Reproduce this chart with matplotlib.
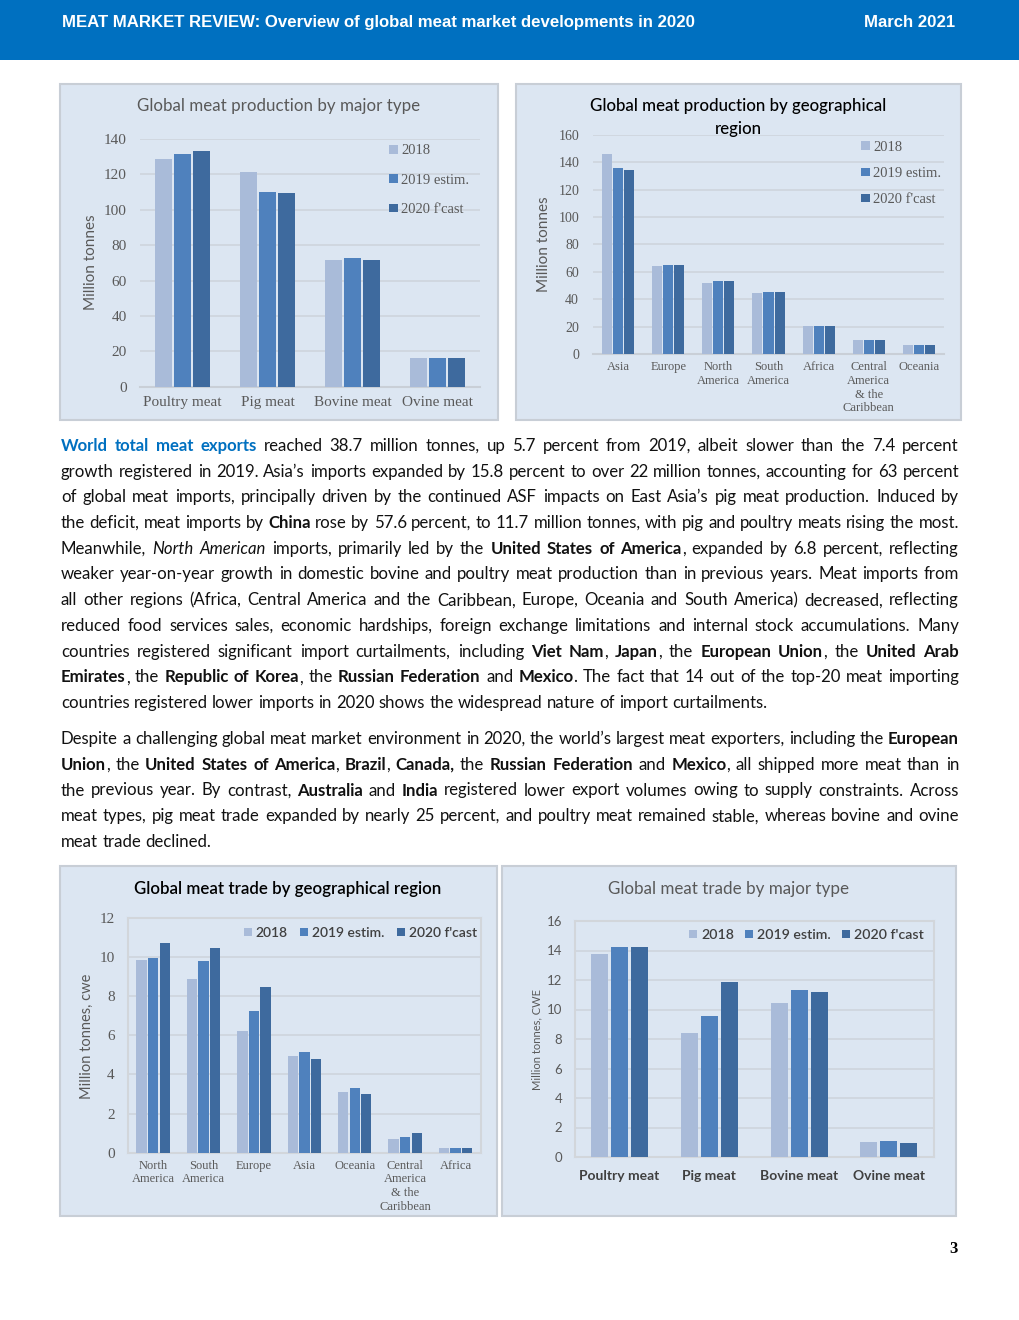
import matplotlib
matplotlib.use('Agg')
import matplotlib.pyplot as plt
from matplotlib.patches import Rectangle
from matplotlib.font_manager import FontProperties
import numpy as np

W, H = 1020, 1320

series = ['2018', '2019 estim.', "2020 f'cast"]

# production by major type (million tonnes)
prod_type_cats = ['Poultry meat', 'Pig meat', 'Bovine meat', 'Ovine meat']
prod_type_2018 = [128.7, 121.3, 71.6, 16.2]
prod_type_2019 = [131.5, 110.0, 72.7, 16.2]
prod_type_2020 = [133.2, 109.5, 71.6, 16.2]

# production by region (million tonnes)
prod_reg_cats = ['Asia', 'Europe', 'North\nAmerica', 'South\nAmerica', 'Africa',
                 'Central\nAmerica\n& the\nCaribbean', 'Oceania']
prod_reg_2018 = [145.9, 64.2, 51.8, 44.5, 20.4, 10.2, 6.6]
prod_reg_2019 = [135.7, 64.9, 53.3, 45.2, 20.4, 10.2, 6.6]
prod_reg_2020 = [134.2, 64.9, 53.3, 45.2, 20.4, 10.2, 6.6]

# trade by region (million tonnes cwe)
trade_reg_cats = ['North\nAmerica', 'South\nAmerica', 'Europe', 'Asia', 'Oceania',
                  'Central\nAmerica\n& the\nCaribbean', 'Africa']
trade_reg_2018 = [9.84, 8.87, 6.21, 4.94, 3.10, 0.70, 0.24]
trade_reg_2019 = [9.94, 9.79, 7.23, 5.14, 3.30, 0.80, 0.24]
trade_reg_2020 = [10.71, 10.45, 8.46, 4.78, 3.00, 1.00, 0.24]

# trade by major type (million tonnes CWE)
trade_type_cats = ['Poultry meat', 'Pig meat', 'Bovine meat', 'Ovine meat']
trade_type_2018 = [13.76, 8.41, 10.44, 1.02]
trade_type_2019 = [14.24, 9.56, 11.32, 1.08]
trade_type_2020 = [14.24, 11.86, 11.19, 0.95]

# body text, one entry per printed line: (text, style) runs
para1 = [
    [("World total meat exports", 'c'), (" reached 38.7 million tonnes, up 5.7 percent from 2019, albeit slower than the 7.4 percent", 'n')],
    [("growth registered in 2019. Asia’s imports expanded by 15.8 percent to over 22 million tonnes, accounting for 63 percent", 'n')],
    [("of global meat imports, principally driven by the continued ASF impacts on East Asia’s pig meat production. Induced by", 'n')],
    [("the deficit, meat imports by ", 'n'), ("China", 'b'), (" rose by 57.6 percent, to 11.7 million tonnes, with pig and poultry meats rising the most.", 'n')],
    [("Meanwhile, ", 'n'), ("North American", 'i'), (" imports, primarily led by the ", 'n'), ("United States of America", 'b'), (", expanded by 6.8 percent, reflecting", 'n')],
    [("weaker year-on-year growth in domestic bovine and poultry meat production than in previous years. Meat imports from", 'n')],
    [("all other regions (Africa, Central America and the Caribbean, Europe, Oceania and South America) decreased, reflecting", 'n')],
    [("reduced food services sales, economic hardships, foreign exchange limitations and internal stock accumulations. Many", 'n')],
    [("countries registered significant import curtailments, including ", 'n'), ("Viet Nam", 'b'), (", ", 'n'), ("Japan", 'b'),
     (", the ", 'n'), ("European Union", 'b'), (", the ", 'n'), ("United Arab", 'b')],
    [("Emirates", 'b'), (", the ", 'n'), ("Republic of Korea", 'b'), (", the ", 'n'), ("Russian Federation", 'b'), (" and ", 'n'),
     ("Mexico", 'b'), (". The fact that 14 out of the top-20 meat importing", 'n')],
    [("countries registered lower imports in 2020 shows the widespread nature of import curtailments.", 'n')],
]
para2 = [
    [("Despite a challenging global meat market environment in 2020, the world’s largest meat exporters, including the ", 'n'), ("European", 'b')],
    [("Union", 'b'), (", the ", 'n'), ("United States of America", 'b'), (", ", 'n'), ("Brazil", 'b'), (", ", 'n'), ("Canada,", 'b'),
     (" the ", 'n'), ("Russian Federation", 'b'), (" and ", 'n'), ("Mexico", 'b'), (", all shipped more meat than in", 'n')],
    [("the previous year. By contrast, ", 'n'), ("Australia", 'b'), (" and ", 'n'), ("India", 'b'),
     (" registered lower export volumes owing to supply constraints. Across", 'n')],
    [("meat types, pig meat trade expanded by nearly 25 percent, and poultry meat remained stable, whereas bovine and ovine", 'n')],
    [("meat trade declined.", 'n')],
]

C18, C19, C20 = '#A9BBD9', '#4F81BD', '#3E6A9E'
PANEL = '#DCE6F2'
GRID = '#CFD6DF'
GRAY = '#595959'
SANS = ['Lato', 'DejaVu Sans']
SERIF = ['Liberation Serif', 'DejaVu Serif']

fig = plt.figure(figsize=(W / 100, H / 100), dpi=100)
fig.patch.set_facecolor('white')
R = fig.canvas.get_renderer()


def fx(x):
    return x / W


def fy(y):
    return 1 - y / H


def px_rect(x0, y0, x1, y1):
    return [x0 / W, 1 - y1 / H, (x1 - x0) / W, (y1 - y0) / H]


def tw(s, size, **kw):
    fp = FontProperties(size=size, **kw)
    w, h, d = R.get_text_width_height_descent(s, fp, ismath=False)
    return w


def adv(s, size, **kw):
    # advance width (includes trailing side bearing)
    return tw(s + '|', size, **kw) - tw('|', size, **kw)


def fit(s, target, **kw):
    return 10 * target / tw(s, 10, **kw)


# header band
fig.add_artist(Rectangle((0, fy(60)), 1, 60 / H, transform=fig.transFigure,
                         facecolor='#0070C0', edgecolor='none', zorder=-2))
head = "MEAT MARKET REVIEW: Overview of global meat market developments in 2020"
hs = fit(head, 632, family=['Liberation Sans', 'DejaVu Sans'], weight='bold')
fig.text(fx(62), fy(27), head, color='white', fontsize=hs, weight='bold',
         family=['Liberation Sans', 'DejaVu Sans'], va='baseline')
fig.text(fx(955), fy(27), "March 2021", color='white', fontsize=hs, weight='bold',
         family=['Liberation Sans', 'DejaVu Sans'], va='baseline', ha='right')

# chart panels
for x0, y0, x1, y1 in [(60, 84, 498, 420), (516, 84, 961, 420),
                       (60, 866, 497, 1216), (502, 866, 956, 1216)]:
    fig.add_artist(Rectangle((fx(x0), fy(y1)), (x1 - x0) / W, (y1 - y0) / H,
                             transform=fig.transFigure, facecolor=PANEL,
                             edgecolor='#C8CED6', lw=1.5, zorder=-2))


def bar_chart(rect, cats, vals, ymax, ystep, bw, step, tick_fp, cat_fp, frame,
              ypad, xpad):
    ax = fig.add_axes(px_rect(*rect))
    ax.set_facecolor('none')
    x = np.arange(len(cats))
    for i, (v, c, lab) in enumerate(zip(vals, [C18, C19, C20], series)):
        ax.bar(x + (i - 1) * step, v, bw, color=c, label=lab, zorder=3)
    ax.set_xlim(-0.5, len(cats) - 0.5)
    ax.set_ylim(0, ymax)
    yt = np.arange(0, ymax + 0.01, ystep)
    ax.set_yticks(yt)
    ax.set_yticklabels([str(int(v)) for v in yt], fontproperties=tick_fp, color=GRAY)
    ax.set_xticks(x)
    ax.set_xticklabels(cats, fontproperties=cat_fp, color=GRAY, linespacing=1.2)
    ax.tick_params(length=0)
    ax.tick_params(axis='y', pad=ypad)
    ax.tick_params(axis='x', pad=xpad)
    ax.yaxis.grid(True, color=GRID, lw=1.3, zorder=0)
    ax.set_axisbelow(True)
    for s in ax.spines.values():
        s.set_visible(frame)
        s.set_color('#D2D6DB')
        s.set_linewidth(1.5)
    if not frame:
        ax.spines['bottom'].set_visible(True)
        ax.spines['bottom'].set_color('#C9CFD7')
    return ax


def ylab(x, y, s, size):
    fig.text(fx(x), fy(y), s, rotation=90, ha='center', va='center',
             rotation_mode='anchor', fontsize=size, family=SANS, color=GRAY)


def title(x, y, s, width, color, weight='normal'):
    sz = fit(s, width, family=SANS, weight=weight)
    fig.text(fx(x), fy(y), s, ha='center', va='center', fontsize=sz,
             family=SANS, weight=weight, color=color)
    return sz


serif11 = FontProperties(family=SERIF, size=11)
serif10 = FontProperties(family=SERIF, size=10)
serif9 = FontProperties(family=SERIF, size=9)

# chart 1
ax1 = bar_chart((140, 139, 480, 386.7), prod_type_cats,
                [prod_type_2018, prod_type_2019, prod_type_2020], 140, 20,
                0.19, 0.224, serif11, serif11, False, 9.5, 7)
title(278.5, 106, "Global meat production by major type", 283, GRAY)
ylab(91, 262, "Million tonnes", 11)
leg = ax1.legend(loc='upper left', bbox_to_anchor=(fx(389.5), fy(144.5)),
                 bbox_transform=fig.transFigure, frameon=False,
                 prop=FontProperties(family=SERIF, size=10.5), handlelength=0.55,
                 handleheight=0.55, handletextpad=0.25, labelspacing=1.12,
                 borderpad=0, borderaxespad=0)
for t in leg.get_texts():
    t.set_color(GRAY)

# chart 2
ax2 = bar_chart((593, 134.7, 944, 354), prod_reg_cats,
                [prod_reg_2018, prod_reg_2019, prod_reg_2020], 160, 20,
                0.2, 0.22, serif10, serif9, False, 10, 5)
sz2 = fit("Global meat production by geographical", 299, family=SANS, weight='medium')
fig.text(fx(738), fy(106), "Global meat production by geographical", ha='center',
         va='center', fontsize=sz2, family=SANS, weight='medium', color='black')
fig.text(fx(738), fy(129), "region", ha='center', va='center', fontsize=sz2,
         family=SANS, weight='medium', color='black')
ylab(544, 244, "Million tonnes", 11)
leg = ax2.legend(loc='upper left', bbox_to_anchor=(fx(861.5), fy(141)),
                 bbox_transform=fig.transFigure, frameon=False,
                 prop=FontProperties(family=SERIF, size=10.5), handlelength=0.55,
                 handleheight=0.55, handletextpad=0.25, labelspacing=0.9,
                 borderpad=0, borderaxespad=0)
for t in leg.get_texts():
    t.set_color(GRAY)

# chart 3
ax3 = bar_chart((128, 917.7, 480.7, 1152.7), trade_reg_cats,
                [trade_reg_2018, trade_reg_2019, trade_reg_2020], 12, 2,
                0.205, 0.23, serif11, serif9, True, 9.5, 5)
title(287.5, 889, "Global meat trade by geographical region", 309, 'black', 'semibold')
ylab(87, 1036, "Million tonnes, cwe", 10.5)
leg = ax3.legend(loc='upper left', bbox_to_anchor=(fx(244), fy(927)),
                 bbox_transform=fig.transFigure, frameon=False, ncol=3,
                 prop=FontProperties(family=SANS, size=10, weight='semibold'),
                 handlelength=0.55, handleheight=0.55, handletextpad=0.3,
                 columnspacing=0.9, borderpad=0, borderaxespad=0)
for t in leg.get_texts():
    t.set_color('#404040')

# chart 4
tick4 = FontProperties(family=SANS, size=9.5)
cat4 = FontProperties(family=SANS, size=10, weight='bold')
ax4 = bar_chart((574.7, 921, 933.7, 1157), trade_type_cats,
                [trade_type_2018, trade_type_2019, trade_type_2020], 16, 2,
                0.19, 0.223, tick4, cat4, True, 9, 9)
for t in ax4.get_xticklabels():
    t.set_color('#404040')
title(728.5, 889, "Global meat trade by major type", 241, GRAY)
ylab(537, 1039, "Million tonnes, CWE", 8)
leg = ax4.legend(loc='upper left', bbox_to_anchor=(fx(689), fy(929)),
                 bbox_transform=fig.transFigure, frameon=False, ncol=3,
                 prop=FontProperties(family=SANS, size=10.2, weight='semibold'),
                 handlelength=0.55, handleheight=0.55, handletextpad=0.3,
                 columnspacing=0.8, borderpad=0, borderaxespad=0)
for t in leg.get_texts():
    t.set_color('#404040')

# body text, justified
STY = {'n': dict(weight='normal', style='normal', color='#111111'),
       'b': dict(weight='bold', style='normal', color='#111111'),
       'i': dict(weight='normal', style='italic', color='#111111'),
       'c': dict(weight='bold', style='normal', color='#0070C0')}
LEFT, RIGHT = 61, 959


def seg_w(t, st, size):
    s = STY[st]
    return adv(t, size, family=SANS, weight=s['weight'], style=s['style'])


def words_of(runs):
    words, cur = [], []
    for txt, st in runs:
        parts = txt.split(' ')
        for j, p in enumerate(parts):
            if j > 0 and cur:
                words.append(cur)
                cur = []
            if p:
                cur.append((p, st))
    if cur:
        words.append(cur)
    return words


def space_w(size):
    return tw('a a', size, family=SANS) - tw('aa', size, family=SANS)


natural = []
for para in (para1, para2):
    for ln in para[:-1]:
        ws = words_of(ln)
        natural.append(sum(seg_w(t, st, 10) for w in ws for t, st in w)
                       + space_w(10) * (len(ws) - 1))
body_size = 10 * (RIGHT - LEFT) / max(natural)


def draw_para(para, y0, dy):
    sp = space_w(body_size)
    for k, ln in enumerate(para):
        ws = words_of(ln)
        wid = [sum(seg_w(t, st, body_size) for t, st in w) for w in ws]
        last = k == len(para) - 1
        gap = sp if last else (RIGHT - LEFT - sum(wid)) / (len(ws) - 1)
        x = LEFT
        yb = y0 + k * dy
        for w, ww in zip(ws, wid):
            xx = x
            for t, st in w:
                s = STY[st]
                fig.text(fx(xx), fy(yb), t, fontsize=body_size, family=SANS,
                         weight=s['weight'], style=s['style'], color=s['color'],
                         va='baseline', ha='left')
                xx += seg_w(t, st, body_size)
            x += ww + gap


draw_para(para1, 451, 25.7)
draw_para(para2, 744, 25.75)

fig.text(fx(954), fy(1249), "3", ha='center', va='center', fontsize=12,
         weight='bold', family=SERIF, color='black')

fig.savefig('out.png', dpi=100, facecolor='white')
